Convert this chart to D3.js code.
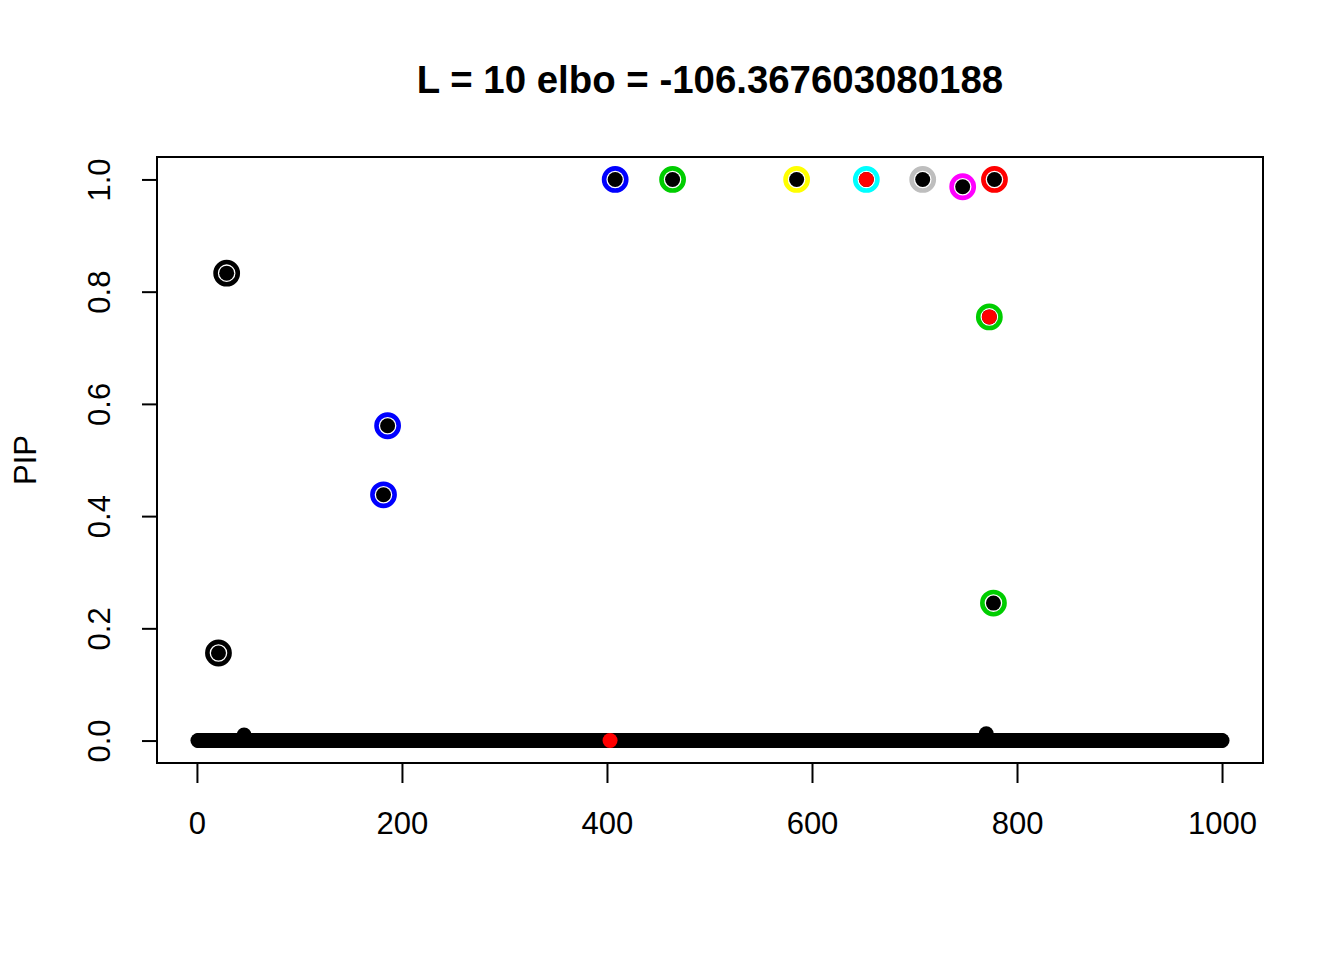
<!DOCTYPE html>
<html>
<head>
<meta charset="utf-8">
<script src="https://cdn.jsdelivr.net/npm/d3@7"></script>
<style>
  html, body { margin: 0; padding: 0; background: #fff; }
  text { font-family: "Liberation Sans", Arial, Helvetica, sans-serif; }
</style>
</head>
<body>
<svg id="chart" width="1344" height="960"></svg>
<script>
// ---------------- data ----------------
const titleText = "L = 10 elbo = -106.367603080188";
const yLabel = "PIP";
const nVariables = 1000;
const xTicks = [0, 200, 400, 600, 800, 1000];
const yTicks = [0.0, 0.2, 0.4, 0.6, 0.8, 1.0];

// variables whose PIP is visibly above zero (all others read as 0)
const nonzeroIdx = [21, 29, 46, 182, 186, 408, 464, 585, 653, 708, 747, 770, 773, 777, 778];
const nonzeroPip = [0.156, 0.833, 0.010, 0.438, 0.561, 1.0, 1.0, 1.0, 1.0, 1.0, 0.987, 0.012, 0.755, 0.245, 1.0];

// true effect variables (drawn in red)
const trueEffectIdx = [403, 653, 773];

// credible sets: member variables and ring colour
const csMembers = [[21, 29], [182, 186], [408], [464], [585], [653], [708], [747], [778], [773, 777]];
const csColors = ["#000000", "#0000FF", "#0000FF", "#00CD00", "#FFFF00", "#00FFFF", "#BEBEBE", "#FF00FF", "#FF0000", "#00CD00"];

// ---------------- build ----------------
const pip = new Array(nVariables).fill(0);
nonzeroIdx.forEach((k, i) => { pip[k - 1] = nonzeroPip[i]; });
const points = pip.map((v, i) => ({ x: i + 1, y: v }));

const svg = d3.select("#chart");
const plot = { left: 157, right: 1263, top: 157, bottom: 763 };

const xPad = (nVariables - 1) * 0.04;
const x = d3.scaleLinear().domain([1 - xPad, nVariables + xPad]).range([plot.left, plot.right]);
const y = d3.scaleLinear().domain([-0.04, 1.04]).range([plot.bottom, plot.top]);

// base points
svg.append("g").selectAll("circle").data(points).join("circle")
  .attr("cx", d => x(d.x)).attr("cy", d => y(d.y)).attr("r", 7.5)
  .attr("fill", "#000");

// true effects in red
svg.append("g").selectAll("circle").data(trueEffectIdx).join("circle")
  .attr("cx", d => x(d)).attr("cy", d => y(pip[d - 1])).attr("r", 7.5)
  .attr("fill", "#FF0000");

// credible set rings
const rings = [];
csMembers.forEach((m, i) => m.forEach(k => rings.push({ x: k, y: pip[k - 1], c: csColors[i] })));
svg.append("g").selectAll("circle").data(rings).join("circle")
  .attr("cx", d => x(d.x)).attr("cy", d => y(d.y)).attr("r", 11.1)
  .attr("fill", "none").attr("stroke", d => d.c).attr("stroke-width", 4.6);

// frame
svg.append("rect")
  .attr("x", plot.left).attr("y", plot.top)
  .attr("width", plot.right - plot.left).attr("height", plot.bottom - plot.top)
  .attr("fill", "none").attr("stroke", "#000").attr("stroke-width", 2);

// x axis
const xAxis = svg.append("g").attr("transform", `translate(0,${plot.bottom})`)
  .call(d3.axisBottom(x).tickValues(xTicks).tickSize(20).tickPadding(0).tickFormat(d3.format("d")));
xAxis.select(".domain").attr("d", `M${x(0)},0H${x(1000)}`).attr("stroke-width", 2);
xAxis.selectAll(".tick line").attr("stroke-width", 2);
xAxis.selectAll(".tick text").attr("y", 71).attr("dy", null)
  .attr("font-size", 31).attr("fill", "#000");

// y axis
const yAxis = svg.append("g").attr("transform", `translate(${plot.left},0)`)
  .call(d3.axisLeft(y).tickValues(yTicks).tickSize(15).tickFormat(d3.format(".1f")));
yAxis.select(".domain").attr("d", `M0,${y(0)}V${y(1)}`).attr("stroke-width", 2);
yAxis.selectAll(".tick line").attr("stroke-width", 2);
yAxis.selectAll(".tick text")
  .attr("x", null).attr("dy", null)
  .attr("transform", "translate(-47,0) rotate(-90)")
  .attr("text-anchor", "middle")
  .attr("font-size", 31).attr("fill", "#000");

// y label
svg.append("text")
  .attr("transform", `translate(36,${(plot.top + plot.bottom) / 2}) rotate(-90)`)
  .attr("text-anchor", "middle").attr("font-size", 31).attr("fill", "#000")
  .text(yLabel);

// title
svg.append("text")
  .attr("x", (plot.left + plot.right) / 2).attr("y", 93)
  .attr("text-anchor", "middle").attr("font-size", 38.4).attr("font-weight", "bold")
  .attr("fill", "#000").text(titleText);
</script>
</body>
</html>
